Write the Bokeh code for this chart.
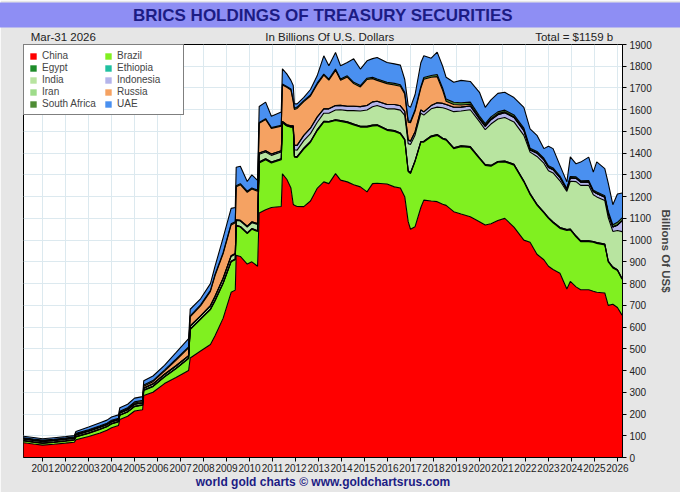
from bokeh.plotting import figure
from bokeh.models import (ColumnDataSource, Range1d, FixedTicker, Legend,
                          LegendItem, LinearAxis, Title)
from bokeh.embed import file_html
from bokeh.resources import INLINE

# ---------------- data (billions of US$) ----------------
years = [2000.17, 2000.6, 2001.0, 2001.5, 2002.0, 2002.38, 2002.45, 2003.0, 2003.5, 2003.8,
         2004.0, 2004.3, 2004.36, 2004.7, 2005.0, 2005.35, 2005.4, 2005.8, 2006.3, 2006.8,
         2007.35, 2007.42, 2007.87, 2008.3, 2008.5, 2008.85, 2009.2, 2009.38, 2009.42, 2009.6,
         2009.9, 2010.1, 2010.35, 2010.42, 2010.7, 2010.95, 2011.38, 2011.43, 2011.62, 2011.8,
         2011.9, 2011.95, 2012.07, 2012.36, 2012.65, 2012.94, 2013.23, 2013.45, 2013.74, 2013.96,
         2014.25, 2014.53, 2014.82, 2015.11, 2015.35, 2015.55, 2015.98, 2016.3, 2016.56, 2016.75,
         2016.9, 2017.0, 2017.2, 2017.45, 2017.58, 2017.9, 2018.16, 2018.4, 2018.55, 2018.88,
         2019.2, 2019.6, 2020.0, 2020.25, 2020.5, 2020.8, 2021.1, 2021.5, 2021.93, 2022.2,
         2022.5, 2022.8, 2023.0, 2023.2, 2023.5, 2023.8, 2023.95, 2024.2, 2024.4, 2024.75,
         2024.95, 2025.1, 2025.45, 2025.6, 2025.8, 2026.0, 2026.2]

china = [68, 62, 57, 61, 66, 70, 82, 97, 113, 125,
         137, 147, 175, 190, 214, 220, 285, 300, 340, 368,
         400, 458, 490, 520, 560, 640, 760, 770, 930, 925,
         890, 900, 880, 1125, 1140, 1150, 1155, 1305, 1280, 1240,
         1165, 1160, 1155, 1154, 1180, 1238, 1268, 1260, 1306, 1276,
         1268, 1255, 1245, 1222, 1260, 1262, 1258, 1245, 1240, 1200,
         1085, 1050, 1062, 1150, 1184, 1180, 1177, 1165, 1160, 1131,
         1120, 1108, 1085, 1070, 1075, 1090, 1100, 1060, 1000, 990,
         935, 910, 880, 865, 848, 775, 810, 785, 772, 772,
         765, 760, 757, 700, 705, 690, 655]

brazil = [8, 8, 8, 8, 9, 10, 12, 14, 16, 16,
          17, 17, 19, 19, 20, 20, 23, 26, 30, 40,
          55, 130, 145, 160, 160, 160, 140, 140, 135, 135,
          140, 150, 160, 230, 230, 205, 215, 235, 245, 280,
          355, 222, 225, 265, 270, 265, 275, 282, 244, 270,
          272, 275, 275, 298, 265, 265, 247, 255, 249, 260,
          230, 256, 300, 300, 267, 295, 305, 300, 300, 290,
          310, 318, 290, 274, 265, 268, 260, 285, 268, 220,
          226, 215, 220, 215, 206, 270, 237, 230, 221, 221,
          225, 225, 221, 200, 167, 170, 165]

egypt = [2, 2, 2, 2, 2, 2, 2, 2, 2, 2,
         2, 2, 2, 2, 2, 2, 2, 2, 2, 2,
         2, 3, 3, 3, 3, 3, 3, 3, 3, 3,
         3, 3, 3, 4, 4, 4, 4, 2, 2, 2,
         2, 4, 4, 4, 4, 4, 4, 4, 4, 4,
         4, 4, 4, 4, 4, 4, 4, 4, 4, 4,
         4, 4, 4, 4, 4, 4, 4, 4, 4, 4,
         4, 4, 4, 4, 4, 4, 4, 4, 4, 4,
         4, 4, 4, 4, 4, 4, 4, 4, 4, 4,
         4, 4, 4, 4, 4, 4, 4]

ethiopia = [0] * 97

india = [6, 6, 6, 6, 6, 6, 7, 7, 7, 7,
         7, 7, 8, 8, 8, 8, 8, 9, 9, 10,
         10, 12, 12, 14, 17, 19, 22, 22, 22, 25,
         27, 27, 29, 36, 31, 31, 31, 2, 2, 2,
         2, 30, 30, 35, 36, 34, 37, 38, 45, 50,
         52, 62, 70, 75, 85, 88, 95, 100, 105, 110,
         125, 130, 118, 130, 120, 125, 126, 140, 140, 166,
         160, 170, 166, 160, 190, 195, 200, 195, 210, 191,
         220, 225, 215, 225, 215, 175, 220, 250, 255, 255,
         215, 210, 200, 200, 164, 180, 215]

indonesia = [2, 2, 2, 2, 2, 2, 2, 2, 2, 2,
             2, 2, 2, 2, 2, 2, 2, 2, 2, 2,
             2, 2, 2, 2, 2, 3, 3, 3, 3, 3,
             4, 4, 4, 6, 6, 6, 6, 2, 2, 2,
             2, 20, 22, 24, 25, 25, 20, 20, 20, 20,
             20, 20, 20, 20, 22, 20, 20, 20, 20, 18,
             18, 15, 15, 15, 15, 15, 20, 20, 20, 20,
             18, 17, 13, 15, 20, 20, 22, 20, 22, 10,
             15, 15, 15, 15, 15, 8, 15, 15, 15, 15,
             15, 15, 15, 18, 20, 25, 50]

iran = [0] * 97

russia = [2, 2, 2, 2, 2, 2, 2, 2, 2, 2,
          2, 2, 3, 4, 5, 6, 8, 10, 14, 25,
          35, 42, 45, 65, 95, 112, 142, 142, 152, 164,
          156, 151, 149, 136, 144, 118, 113, 168, 172, 165,
          112, 165, 170, 155, 148, 150, 155, 132, 162, 115,
          134, 104, 91, 120, 107, 96, 96, 90, 90, 80,
          80, 85, 95, 100, 150, 130, 120, 60, 15, 13,
          10, 8, 5, 5, 5, 5, 4, 4, 3, 2,
          2, 2, 2, 2, 1, 1, 1, 1, 1, 1,
          1, 1, 1, 1, 1, 1, 1]

south_africa = [3, 3, 3, 3, 3, 3, 4, 4, 4, 4,
                4, 4, 4, 4, 5, 5, 5, 5, 5, 5,
                5, 5, 5, 5, 5, 5, 5, 5, 5, 5,
                5, 5, 5, 4, 4, 4, 4, 4, 4, 4,
                4, 6, 6, 5, 5, 6, 5, 5, 6, 6,
                6, 6, 6, 6, 6, 6, 6, 7, 7, 7,
                7, 6, 6, 7, 8, 8, 10, 10, 10, 10,
                10, 10, 8, 8, 8, 8, 8, 8, 8, 6,
                6, 6, 6, 6, 6, 5, 6, 6, 5, 6,
                5, 6, 6, 9, 10, 12, 12]

uae = [7, 7, 6, 7, 6, 6, 9, 12, 14, 14,
       15, 15, 16, 16, 17, 17, 20, 21, 22, 30,
       38, 30, 28, 31, 38, 68, 71, 65, 85, 80,
       45, 60, 45, 74, 76, 52, 62, 70, 58, 40,
       69, 20, 15, 15, 25, 34, 84, 61, 76, 61,
       61, 108, 76, 80, 86, 99, 91, 90, 90, 60,
       70, 65, 70, 110, 100, 80, 103, 101, 100, 92,
       103, 95, 109, 75, 78, 85, 82, 80, 96, 89,
       74, 44, 90, 89, 49, 30, 90, 60, 86, 108,
       83, 139, 125, 130, 92, 130, 115]

countries = ["China", "Brazil", "Egypt", "Ethiopia", "India", "Indonesia",
             "Iran", "Russia", "South Africa", "UAE"]
year_ticks = list(range(2001, 2027))
year_labels = [str(y) for y in year_ticks]
value_ticks = list(range(0, 2000, 100))
header_texts = ["Mar-31  2026", "In Billions Of U.S. Dollars", "Total = $1159 b"]
title_text = "BRICS HOLDINGS OF TREASURY SECURITIES"
footer_text = "world gold charts \u00a9 www.goldchartsrus.com"
axis_title = "Billions Of US$"

# ---------------- styling ----------------
keys = ["china", "brazil", "egypt", "ethiopia", "india", "indonesia",
        "iran", "russia", "south_africa", "uae"]
colors = ["#ff0000", "#80f020", "#1e8c2a", "#20c0a0", "#b8e4a0", "#b4b4ea",
          "#9edc8a", "#f5a262", "#4e8c34", "#4a90f0"]
FONT = "Liberation Sans"
NAVY = "#1c1c84"
TXT = "#222222"
header_pos = [2001.97, 2013.49, 2024.12]   # horizontal placement of header texts

src = ColumnDataSource(dict(year=years, china=china, brazil=brazil, egypt=egypt,
                            ethiopia=ethiopia, india=india, indonesia=indonesia,
                            iran=iran, russia=russia, south_africa=south_africa,
                            uae=uae))

p = figure(width=680, height=492,
           x_range=Range1d(2000.17, 2026.22), y_range=Range1d(0, 1900),
           y_axis_location="right", toolbar_location=None, output_backend="svg",
           min_border_left=23, min_border_right=58, min_border_top=43,
           min_border_bottom=35)
p.background_fill_color = "white"
p.border_fill_color = "#e6e6e6"
p.outline_line_color = "black"
p.outline_line_width = 1

areas = p.varea_stack(stackers=keys, x="year", color=colors, source=src)
p.vline_stack(stackers=keys, x="year", color="black", line_width=1.1, source=src)

# bottom (year) axis
xax = p.below[0]
xax.ticker = FixedTicker(ticks=year_ticks)
xax.major_label_overrides = {t: l for t, l in zip(year_ticks, year_labels)}
xax.major_label_text_font = FONT
xax.major_label_text_font_size = "10px"
xax.major_label_text_color = TXT
xax.major_label_standoff = 2
xax.major_tick_in = 0
xax.major_tick_out = 4
xax.minor_tick_line_color = None
xax.axis_line_color = "black"

# value axis (right)
yax = p.right[0]
yax.ticker = FixedTicker(ticks=value_ticks)
yax.major_label_text_font = FONT
yax.major_label_text_font_size = "10px"
yax.major_label_text_color = TXT
yax.major_label_standoff = 3
yax.major_tick_in = 0
yax.major_tick_out = 4
yax.minor_tick_line_color = None
yax.axis_label = axis_title
yax.axis_label_text_font = FONT
yax.axis_label_text_font_style = "bold"
yax.axis_label_text_font_size = "11.5px"
yax.axis_label_standoff = 5

p.xgrid.grid_line_color = "#dce9ef"
p.ygrid.grid_line_color = "#dce9ef"

# main title bar
p.title.text = title_text
p.title.align = "center"
p.title.offset = 18
p.title.standoff = 0
p.title.text_font = FONT
p.title.text_font_size = "17px"
p.title.text_font_style = "bold"
p.title.text_color = NAVY
p.title.background_fill_color = "#8e8ef4"
p.title.padding = (400, 3)

# header line (texts above the plot area)
head = LinearAxis(ticker=FixedTicker(ticks=header_pos),
                  major_label_overrides={t: s for t, s in zip(header_pos, header_texts)},
                  axis_line_color=None, major_tick_line_color=None,
                  major_tick_in=0, major_tick_out=0,
                  minor_tick_line_color=None, minor_tick_in=0, minor_tick_out=0,
                  major_label_standoff=2,
                  major_label_text_font=FONT, major_label_text_font_size="11.5px",
                  major_label_text_color=TXT)
p.add_layout(head, "above")

# footer
p.add_layout(Title(text=footer_text, align="center", offset=31, standoff=0,
                   vertical_align="top",
                   text_font=FONT, text_font_size="12px", text_font_style="bold",
                   text_color=NAVY), "below")

# legend
order = [0, 2, 4, 6, 8, 1, 3, 5, 7, 9]
items = [LegendItem(label=countries[i], renderers=[areas[i]]) for i in order]
legend = Legend(items=items, location="top_left", nrows=5,
                border_line_color="black", border_line_width=1,
                background_fill_color="white", background_fill_alpha=1,
                margin=0, padding=5, spacing=1,
                label_text_font=FONT, label_text_font_size="10px",
                glyph_width=8, glyph_height=8, label_height=10, label_width=61,
                label_standoff=5)
p.add_layout(legend, "center")

open("out.html", "w").write(file_html(p, INLINE))
